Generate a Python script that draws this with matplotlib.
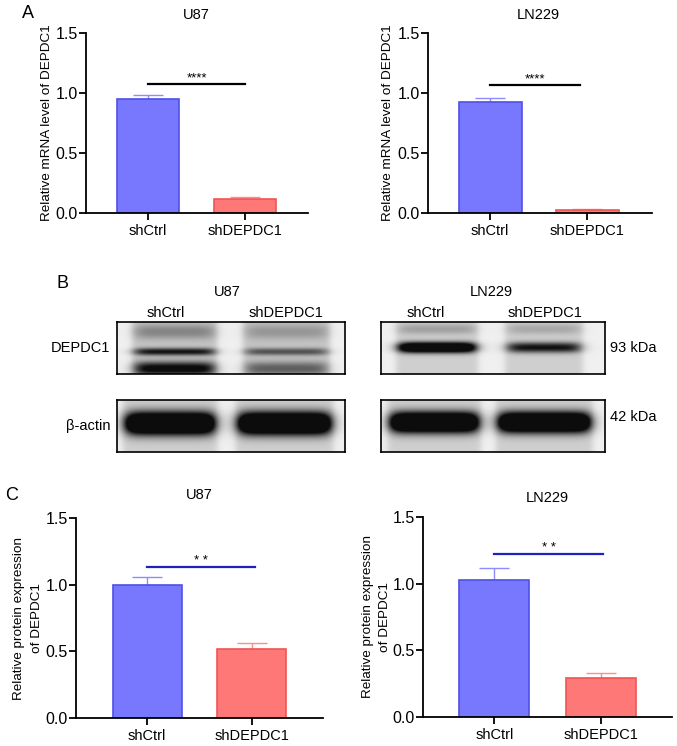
import numpy as np
import matplotlib.pyplot as plt

plt.rcParams['font.family'] = ['Liberation Sans', 'DejaVu Sans']

W, H = 677, 746

groups = ['shCtrl', 'shDEPDC1']

# panel A, qPCR
mrna_u87 = [0.95, 0.12]
mrna_u87_err = [0.03, 0.015]
mrna_ln229 = [0.925, 0.025]
mrna_ln229_err = [0.03, 0.011]

# panel C, western blot quantification
prot_u87 = [1.0, 0.515]
prot_u87_err = [0.06, 0.05]
prot_ln229 = [1.03, 0.295]
prot_ln229_err = [0.09, 0.035]

yticks = [0.0, 0.5, 1.0, 1.5]

# band darkness per lane (shCtrl, shDEPDC1)
u87_depdc1_top = [0.25, 0.18]
u87_depdc1_main = [0.7, 0.45]
u87_depdc1_low = [0.8, 0.4]
ln229_depdc1_main = [1.3, 0.75]
actin_u87 = [1.5, 1.5]
actin_ln229 = [1.5, 1.5]

fill_colors = ['#7878FF', '#FF7878']
edge_colors = ['#5050E8', '#F05555']
err_colors = ['#8C8CFF', '#FF8C8C']


def rect(x0, y0, x1, y1):
    return [x0 / W, 1 - y1 / H, (x1 - x0) / W, (y1 - y0) / H]


fig = plt.figure(figsize=(W / 100, H / 100), dpi=100)


def bar_panel(px, vals, errs, xlim, width, title, title_y, ylabel, label_x,
              sig_y, sig_x1, stars, star_y, sig_color):
    ax = fig.add_axes(rect(*px))
    x = np.arange(len(groups))
    ax.bar(x, vals, width=width, color=fill_colors, edgecolor=edge_colors,
           linewidth=1.2, zorder=2)
    for i in range(len(groups)):
        ax.errorbar(x[i], vals[i], yerr=[[0], [errs[i]]], color=err_colors[i],
                    capsize=11, elinewidth=1, capthick=1, zorder=1)
    ax.plot([0, sig_x1], [sig_y, sig_y], color=sig_color, lw=1.6)
    ax.text(sig_x1 / 2, star_y, stars, ha='center', va='center', fontsize=9.5)
    ax.set_xlim(*xlim)
    ax.set_ylim(0, 1.5)
    ax.set_yticks(yticks)
    ax.set_yticklabels([f'{v:.1f}' for v in yticks], fontsize=11.5)
    ax.set_xticks(x)
    ax.set_xticklabels(groups, fontsize=10.5)
    ax.tick_params(axis='both', direction='out', length=5, width=1.3)
    ax.tick_params(axis='y', pad=1)
    ax.tick_params(axis='x', pad=3)
    for s in ['top', 'right']:
        ax.spines[s].set_visible(False)
    for s in ['left', 'bottom']:
        ax.spines[s].set_linewidth(1.3)
    # one text per line so both lines stay centred
    lines = ylabel.split('\n')
    step = 17
    for k, line in enumerate(lines):
        lx = label_x + (k - (len(lines) - 1) / 2) * step
        fig.text(lx / W, 1 - (px[1] + px[3]) / 2 / H, line, rotation=90,
                 ha='center', va='center', fontsize=9.7)
    cx = px[0] + (0.5 - xlim[0]) / (xlim[1] - xlim[0]) * (px[2] - px[0])
    fig.text(cx / W, 1 - title_y / H, title, ha='center', va='center', fontsize=10.5)
    return ax


bar_panel((86, 33, 308, 213), mrna_u87, mrna_u87_err, (-0.64, 1.65), 0.64,
          'U87', 15, 'Relative mRNA level of DEPDC1', 47,
          1.075, 1.0, '****', 1.12, 'black')
bar_panel((428, 33, 652, 213), mrna_ln229, mrna_ln229_err, (-0.64, 1.67), 0.65,
          'LN229', 15, 'Relative mRNA level of DEPDC1', 388,
          1.065, 0.93, '****', 1.11, 'black')
bar_panel((76, 518, 323, 718), prot_u87, prot_u87_err, (-0.68, 1.68), 0.66,
          'U87', 495, 'Relative protein expression\nof DEPDC1', 28,
          1.13, 1.03, '* *', 1.18, '#2020C0')
bar_panel((423, 517, 672, 717), prot_ln229, prot_ln229_err, (-0.67, 1.67), 0.66,
          'LN229', 498, 'Relative protein expression\nof DEPDC1', 376,
          1.22, 1.02, '* *', 1.27, '#2020C0')


def blot(px, lanes, bands, lane_shade=0.13):
    # lanes: list of (x0, x1) as fractions; bands: list of (y, sigma, [darkness per lane])
    x0, y0, x1, y1 = px
    w, h = (x1 - x0) * 3, (y1 - y0) * 3
    xx = np.linspace(0, 1, w)[None, :]
    yy = np.linspace(0, 1, h)[:, None]
    img = np.full((h, w), 0.94)
    dark = np.zeros((h, w))
    for i, (a, b) in enumerate(lanes):
        lane = 1 / (1 + np.exp(-(xx - a) / 0.008)) / (1 + np.exp((xx - b) / 0.008))
        img = img - lane_shade * lane * np.ones((h, 1))
        for yc, sig, d in bands:
            v = np.exp(-np.abs((yy - yc) / sig) ** 2.2)
            edge = 1 / (1 + np.exp(-(xx - a - 0.015) / 0.018)) / (1 + np.exp((xx - b + 0.015) / 0.018))
            dark = dark + d[i] * v * edge
    img = np.clip(img - dark, 0.05, 1)
    ax = fig.add_axes(rect(*px))
    ax.imshow(img, cmap='gray', vmin=0, vmax=1, aspect='auto', interpolation='bilinear')
    ax.set_xticks([])
    ax.set_yticks([])
    for s in ax.spines.values():
        s.set_linewidth(1.2)
    return ax


blot((117, 322, 345, 374), [(0.066, 0.439), (0.553, 0.934)],
     [(0.2, 0.14, u87_depdc1_top), (0.58, 0.07, u87_depdc1_main), (0.9, 0.13, u87_depdc1_low)],
     lane_shade=0.17)
blot((117, 400, 345, 452), [(0.026, 0.44), (0.52, 0.95)],
     [(0.45, 0.22, actin_u87)])
blot((381, 322, 605, 374), [(0.067, 0.433), (0.554, 0.902)],
     [(0.15, 0.1, [0.18, 0.15]), (0.5, 0.1, ln229_depdc1_main)])
blot((381, 400, 605, 452), [(0.03, 0.446), (0.513, 0.946)],
     [(0.43, 0.2, actin_ln229)])


def ftext(x, y, s, **kw):
    fig.text(x / W, 1 - y / H, s, va='center', **kw)


nar = ['Liberation Sans Narrow', 'Liberation Sans', 'DejaVu Sans']
ftext(227, 292, 'U87', ha='center', fontsize=10.5, family=nar)
ftext(491, 292, 'LN229', ha='center', fontsize=10.5, family=nar)
ftext(166, 313, 'shCtrl', ha='center', fontsize=10.5, family=nar)
ftext(286, 313, 'shDEPDC1', ha='center', fontsize=10.5, family=nar)
ftext(426, 313, 'shCtrl', ha='center', fontsize=10.5, family=nar)
ftext(545, 313, 'shDEPDC1', ha='center', fontsize=10.5, family=nar)
ftext(110, 348, 'DEPDC1', ha='right', fontsize=10.5, family=nar)
ftext(110, 426, '\u03b2-actin', ha='right', fontsize=10.5, family=nar)
ftext(610, 348, '93 kDa', ha='left', fontsize=10.5, family=nar)
ftext(610, 417, '42 kDa', ha='left', fontsize=10.5, family=nar)

ftext(22, 14, 'A', ha='left', fontsize=13)
ftext(56, 284, 'B', ha='left', fontsize=13)
ftext(5, 495, 'C', ha='left', fontsize=13)

fig.savefig('out.png', dpi=100)
